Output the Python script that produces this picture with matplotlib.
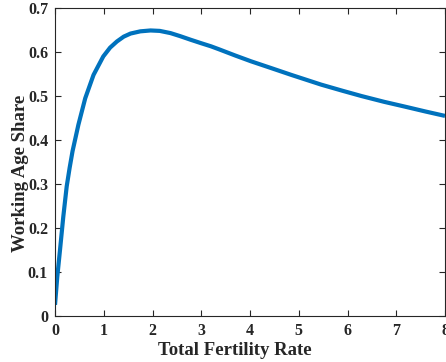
import matplotlib
matplotlib.use("Agg")
import matplotlib.pyplot as plt

tfr = [0.0, 0.047, 0.103, 0.17, 0.24, 0.30, 0.36, 0.48, 0.62, 0.79, 0.99, 1.13, 1.27,
       1.41, 1.55, 1.75, 1.96, 2.15, 2.37, 2.57, 2.78, 3.0, 3.20, 3.37, 3.7, 4.02,
       4.45, 4.85, 5.46, 5.9, 6.29, 6.75, 7.18, 7.6, 8.0]
share = [0.026, 0.090, 0.151, 0.226, 0.295, 0.337, 0.375, 0.435, 0.495, 0.548, 0.590,
         0.610, 0.624, 0.635, 0.642, 0.647, 0.649, 0.648, 0.643, 0.636, 0.628, 0.620,
         0.613, 0.606, 0.592, 0.579, 0.563, 0.548, 0.526, 0.512, 0.500, 0.487, 0.476,
         0.465, 0.455]

xticks = [0, 1, 2, 3, 4, 5, 6, 7, 8]
yticks = [0, 0.1, 0.2, 0.3, 0.4, 0.5, 0.6, 0.7]
ytick_labels = ["0", "0.1", "0.2", "0.3", "0.4", "0.5", "0.6", "0.7"]

plt.rcParams['font.family'] = ['Liberation Serif', 'DejaVu Serif']
plt.rcParams['font.weight'] = 'bold'

fig = plt.figure(figsize=(4.46, 3.62), dpi=100)
ax = fig.add_axes([55 / 446, (362 - 316.3) / 362, 390 / 446, 308.3 / 362])
ax.plot(tfr, share, color='#0072BD', lw=3, solid_capstyle='butt', solid_joinstyle='round')
ax.set_xlim(0, 8)
ax.set_ylim(0, 0.7)
ax.set_xticks(xticks)
ax.set_xticklabels([str(t) for t in xticks])
ax.set_yticks(yticks)
ax.set_yticklabels(ytick_labels)
ax.tick_params(direction='in', top=True, right=True, length=4, width=0.8,
               labelsize=11.5, colors='#262626', pad=5)
for lab in ax.get_xticklabels() + ax.get_yticklabels():
    lab.set_fontweight('bold')
for s in ax.spines.values():
    s.set_color('#262626')
    s.set_linewidth(0.8)
ax.set_xlabel('Total Fertility Rate', fontsize=13.5, fontweight='bold', color='#262626')
ax.set_ylabel('Working Age Share', fontsize=13.5, fontweight='bold', color='#262626')
ax.xaxis.set_label_coords(0.4615, -0.083)
ax.yaxis.set_label_coords(-0.066, 0.463)
fig.savefig('out.png', dpi=100)
